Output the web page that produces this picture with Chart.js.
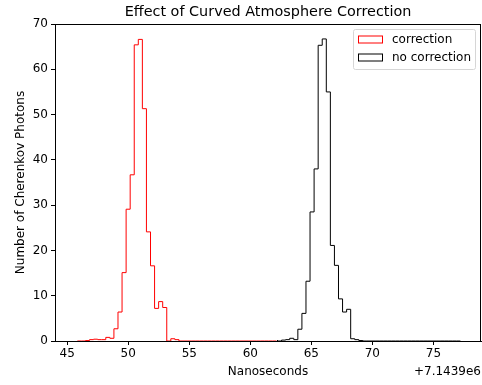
<!DOCTYPE html>
<html>
<head>
<meta charset="utf-8">
<script src="https://cdn.jsdelivr.net/npm/chart.js@4.4.1/dist/chart.umd.min.js"></script>
<style>
  html, body { margin: 0; padding: 0; background: #fff; }
  #wrap { width: 482px; height: 385px; }
</style>
</head>
<body>
<div id="wrap"><canvas id="c" width="482" height="385"></canvas></div>
<script>
// histogram data (ns offset from 7.1439e6), bins of equal width
const BIN_WIDTH = 0.333;
const X_TICKS = [45, 50, 55, 60, 65, 70, 75];
const Y_TICKS = [0, 10, 20, 30, 40, 50, 60, 70];

const redStart = 45.83;
const redCounts = [
  0, 0, 0, 0.1, 0.3, 0.4, 0.3, 0.3, 0.8, 0.6,
  2.7, 6.4, 15.1, 29.1, 36.7, 65.4, 66.6, 51.3, 24.1, 16.6,
  7.2, 8.7, 7.4, 0, 0.5, 0.3, 0, 0, 0, 0,
  0, 0, 0, 0, 0, 0, 0, 0, 0, 0,
  0, 0, 0, 0, 0, 0, 0, 0, 0,
];

const blackStart = 62.23;
const blackCounts = [
  0.2, 0, 0.2, 0.3, 0.6, 0.3, 2.6, 6.1, 13.2, 28.5,
  38.0, 65.3, 66.7, 55.0, 21.1, 16.7, 9.3, 6.4, 7.0, 0.5,
  0.3, 0.1, 0, 0, 0, 0, 0, 0, 0, 0,
  0, 0, 0, 0, 0, 0, 0, 0, 0, 0,
  0, 0, 0, 0, 0,
];

const SERIES = [
  { label: "correction", color: "#ff0000", start: redStart, counts: redCounts },
  { label: "no correction", color: "#000000", start: blackStart, counts: blackCounts },
];

// step outline like matplotlib histtype="step"
function stepPoints(start, counts) {
  const pts = [{ x: start, y: 0 }];
  counts.forEach((c, i) => pts.push({ x: start + i * BIN_WIDTH, y: c }));
  pts.push({ x: start + counts.length * BIN_WIDTH, y: 0 });
  return pts;
}

const FONT = "'DejaVu Sans', sans-serif";

const decorPlugin = {
  id: "decor",
  afterDraw(chart) {
    const ctx = chart.ctx;
    const a = chart.chartArea;
    ctx.save();
    // frame (top/right spines)
    ctx.strokeStyle = "#000";
    ctx.lineWidth = 1;
    ctx.strokeRect(Math.round(a.left) + 0.5, Math.round(a.top) + 0.5, Math.round(a.right - a.left) - 1, Math.round(a.bottom - a.top));

    ctx.fillStyle = "#000";
    ctx.font = `14.4px ${FONT}`;
    ctx.textAlign = "center";
    ctx.textBaseline = "alphabetic";
    ctx.fillText("Effect of Curved Atmosphere Correction", (a.left + a.right) / 2, 16);

    ctx.font = `12px ${FONT}`;
    ctx.fillText("Nanoseconds", (a.left + a.right) / 2, 375);
    ctx.textAlign = "right";
    ctx.fillText("+7.1439e6", 481, 375);

    ctx.save();
    ctx.translate(24, (a.top + a.bottom) / 2);
    ctx.rotate(-Math.PI / 2);
    ctx.textAlign = "center";
    ctx.fillText("Number of Cherenkov Photons", 0, 0);
    ctx.restore();

    // legend
    const lx = 353.5, ly = 29.5, lw = 122, lh = 40, r = 2;
    ctx.beginPath();
    ctx.moveTo(lx + r, ly);
    ctx.arcTo(lx + lw, ly, lx + lw, ly + lh, r);
    ctx.arcTo(lx + lw, ly + lh, lx, ly + lh, r);
    ctx.arcTo(lx, ly + lh, lx, ly, r);
    ctx.arcTo(lx, ly, lx + lw, ly, r);
    ctx.closePath();
    ctx.fillStyle = "rgba(255,255,255,0.8)";
    ctx.fill();
    ctx.strokeStyle = "#d6d6d6";
    ctx.stroke();

    ctx.textAlign = "left";
    ctx.textBaseline = "middle";
    SERIES.forEach((s, i) => {
      const y = 39.5 + i * 18;
      ctx.strokeStyle = s.color;
      ctx.strokeRect(358.5, y - 3.5, 24, 7);
      ctx.fillStyle = "#000";
      ctx.fillText(s.label, 392, y + 0.5);
    });
    ctx.restore();
  },
};

new Chart(document.getElementById("c"), {
  type: "line",
  data: {
    datasets: SERIES.map((s) => ({
      label: s.label,
      data: stepPoints(s.start, s.counts),
      borderColor: s.color,
      borderWidth: 1,
      stepped: "after",
      pointRadius: 0,
      fill: false,
    })),
  },
  options: {
    responsive: false,
    animation: false,
    layout: { padding: { top: 24, right: 1, left: 0, bottom: 0 } },
    plugins: { legend: { display: false }, tooltip: { enabled: false }, title: { display: false } },
    scales: {
      x: {
        type: "linear",
        min: 44.0,
        max: 78.9,
        afterBuildTicks: (s) => { s.ticks = X_TICKS.map((v) => ({ value: v })); },
        afterFit: (s) => { s.height = 44; },
        ticks: { color: "#000", font: { family: FONT, size: 12 }, padding: 2, maxRotation: 0 },
        grid: { drawOnChartArea: false, tickLength: 4, color: "#000" },
        border: { color: "#000", width: 1 },
      },
      y: {
        min: 0,
        max: 70,
        afterBuildTicks: (s) => { s.ticks = Y_TICKS.map((v) => ({ value: v })); },
        afterFit: (s) => { s.width = 55; },
        ticks: { color: "#000", font: { family: FONT, size: 12 }, padding: 3 },
        grid: { drawOnChartArea: false, tickLength: 4, color: "#000" },
        border: { color: "#000", width: 1 },
      },
    },
  },
  plugins: [decorPlugin],
});
</script>
</body>
</html>
